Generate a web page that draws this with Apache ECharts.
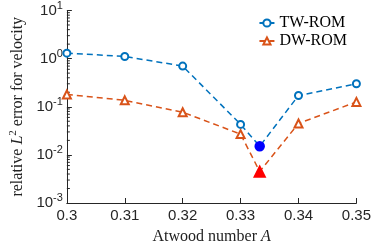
<!DOCTYPE html>
<html>
<head>
<meta charset="utf-8">
<script src="https://cdn.jsdelivr.net/npm/echarts@6/dist/echarts.min.js"></script>
<style>html,body{margin:0;padding:0;background:#fff}#c{width:374px;height:250px}</style>
</head>
<body>
<div id="c"></div>
<script>
// Data
var atwood = [0.30, 0.31, 0.32, 0.33, 0.3333, 0.34, 0.35];
var twRom  = [1.3, 1.11, 0.70, 0.043, 0.0151, 0.171, 0.30];
var dwRom  = [0.18, 0.136, 0.077, 0.027, 0.0045, 0.045, 0.126];
var specialIndex = 4; // filled marker at A = 1/3
var xTicks = [0.3, 0.31, 0.32, 0.33, 0.34, 0.35];
var yDecades = [-3, -2, -1, 0, 1];

var blue = '#0072BD', orange = '#D95319';
var serif = '"Liberation Serif", "DejaVu Serif", serif';
var sans = '"Liberation Sans", Arial, sans-serif';

function buildData(vals, special) {
  return atwood.map(function (a, i) {
    var d = { value: [a, vals[i]] };
    if (i === specialIndex) d = Object.assign(d, special);
    return d;
  });
}

// minor tick values (axis decoration)
var minorVals = [];
yDecades.slice(0, -1).forEach(function (e) {
  for (var m = 2; m <= 9; m++) minorVals.push(m * Math.pow(10, e));
});

var chart = echarts.init(document.getElementById('c'), null, { renderer: 'canvas' });
chart.setOption({
  animation: false,
  backgroundColor: '#fff',
  grid: { left: 54, right: 15, top: 10, bottom: 40 },
  legend: {
    right: 22, top: 10, orient: 'vertical', itemGap: 2,
    itemWidth: 15, itemHeight: 9,
    textStyle: { fontFamily: serif, fontSize: 16, color: '#000' },
    data: ['TW-ROM', 'DW-ROM']
  },
  xAxis: {
    type: 'value', min: 0.3, max: 0.35, interval: 0.01,
    name: 'Atwood number {i|A}', nameLocation: 'middle', nameGap: 26,
    nameTextStyle: { fontFamily: serif, fontSize: 16, color: '#222',
      rich: { i: { fontFamily: serif, fontStyle: 'italic', fontSize: 16, color: '#222' } } },
    axisLine: { show: true, lineStyle: { color: '#262626', width: 1 } },
    axisTick: { show: true, inside: true, length: 5, lineStyle: { color: '#262626' } },
    axisLabel: { fontFamily: sans, fontSize: 15, color: '#262626', margin: 5,
      formatter: function (v) { return String(+v.toFixed(2)); } },
    splitLine: { show: false }
  },
  yAxis: {
    type: 'log', logBase: 10, min: 0.001, max: 10,
    name: 'relative {i|L}{s|2} error for velocity', nameLocation: 'middle', nameGap: 36,
    nameRotate: 90,
    nameTextStyle: { fontFamily: serif, fontSize: 16, color: '#222',
      rich: {
        i: { fontFamily: serif, fontStyle: 'italic', fontSize: 16, color: '#222' },
        s: { fontFamily: serif, fontSize: 11, color: '#222', verticalAlign: 'bottom', padding: [0, 0, 8, 0] }
      } },
    axisLine: { show: true, lineStyle: { color: '#262626', width: 1 } },
    axisTick: { show: true, inside: true, length: 5, lineStyle: { color: '#262626' } },
    minorTick: { show: false },
    axisLabel: {
      margin: 4,
      formatter: function (v) {
        var e = Math.round(Math.log10(v));
        return '{b|10}{s|' + e + '}';
      },
      rich: {
        b: { fontFamily: sans, fontSize: 15, color: '#262626' },
        s: { fontFamily: sans, fontSize: 11, color: '#262626', verticalAlign: 'bottom', padding: [0, 0, 10, 0] }
      }
    },
    splitLine: { show: false }
  },
  series: [
    {
      name: 'TW-ROM', type: 'line', symbol: 'emptyCircle', symbolSize: 7,
      itemStyle: { color: blue, borderWidth: 1.5 },
      lineStyle: { color: blue, width: 1.5, type: [6, 4] },
      data: buildData(twRom, { symbol: 'circle', symbolSize: 9, itemStyle: { color: '#0000FF', borderColor: '#0000FF' } }),
      z: 3
    },
    {
      name: 'DW-ROM', type: 'line', symbol: 'emptyTriangle', symbolSize: 8,
      itemStyle: { color: orange, borderWidth: 1.5 },
      lineStyle: { color: orange, width: 1.5, type: [6, 4] },
      data: buildData(dwRom, { symbol: 'triangle', symbolSize: 11, itemStyle: { color: '#FF0000', borderColor: '#FF0000' } }),
      z: 3
    },
    {
      name: 'minorTicks', type: 'custom', silent: true, z: 1,
      data: minorVals.map(function (v) { return [0.3, v]; }),
      renderItem: function (params, api) {
        var p = api.coord([api.value(0), api.value(1)]);
        return { type: 'line', shape: { x1: p[0], y1: p[1], x2: p[0] + 3, y2: p[1] },
          style: { stroke: '#262626', lineWidth: 1 } };
      }
    }
  ]
});
</script>
</body>
</html>
